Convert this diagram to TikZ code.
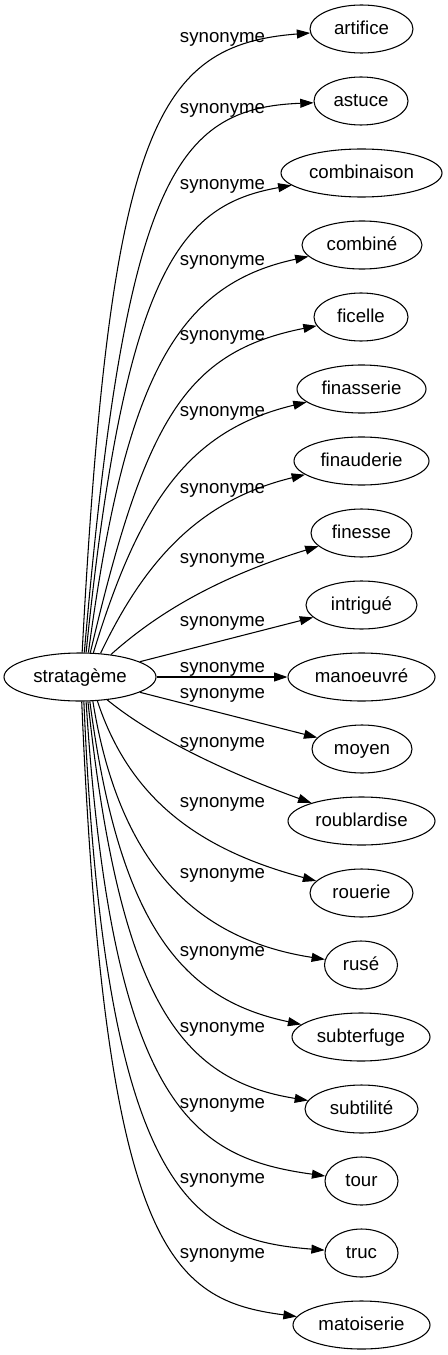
\documentclass[tikz,border=0pt]{standalone}
\usepackage{fontspec}
\setmainfont{Liberation Sans}
\usetikzlibrary{shapes.geometric,arrows.meta}
\begin{document}
\begin{tikzpicture}[x=0.75pt,y=-0.75pt,
  every node/.style={font=\fontsize{14}{16}\selectfont, text height=10pt, text depth=1.75pt},
  wordbox/.style={ellipse, draw, line width=0.8pt, inner sep=0pt, minimum height=36pt, minimum width=#1*0.75pt},
  synlab/.style={inner sep=0pt},
  syn/.style={draw, line width=0.8pt, -{Triangle[length=10pt,width=6.7pt]}},
]
\useasboundingbox (0,0) rectangle (447,1355);

% source
\node[wordbox=152] (s) at (80,677) {stratagème};

% targets
\node[wordbox=103] (artifice)    at (361.5,29)   {artifice};
\node[wordbox=94]  (astuce)      at (361,101)    {astuce};
\node[wordbox=161] (combinaison) at (361.5,173)  {combinaison};
\node[wordbox=120] (combine)     at (362,245)    {combiné};
\node[wordbox=94]  (ficelle)     at (361,317)    {ficelle};
\node[wordbox=129] (finasserie)  at (361.5,389)  {finasserie};
\node[wordbox=135] (finauderie)  at (361.5,461)  {finauderie};
\node[wordbox=101] (finesse)     at (361.5,533)  {finesse};
\node[wordbox=111] (intrigue)    at (361.5,605)  {intrigué};
\node[wordbox=147] (manoeuvre)   at (361.5,677)  {manoeuvré};
\node[wordbox=100] (moyen)       at (362,749)    {moyen};
\node[wordbox=147] (roublardise) at (361.5,821)  {roublardise};
\node[wordbox=103] (rouerie)     at (361.5,893)  {rouerie};
\node[wordbox=73]  (ruse)        at (361,965)    {rusé};
\node[wordbox=138] (subterfuge)  at (361,1037)   {subterfuge};
\node[wordbox=113] (subtilite)   at (361.5,1109) {subtilité};
\node[wordbox=73]  (tour)        at (361.5,1181) {tour};
\node[wordbox=73]  (truc)        at (361.5,1253) {truc};
\node[wordbox=137] (matoiserie)  at (361.5,1325) {matoiserie};

% labels
\node[synlab] (l1)  at (222.5,37)   {synonyme};
\node[synlab] (l2)  at (222.5,108)  {synonyme};
\node[synlab] (l3)  at (222.5,184)  {synonyme};
\node[synlab] (l4)  at (222.5,260)  {synonyme};
\node[synlab] (l5)  at (222.5,335)  {synonyme};
\node[synlab] (l6)  at (222.5,411)  {synonyme};
\node[synlab] (l7)  at (222.5,488)  {synonyme};
\node[synlab] (l8)  at (222.5,558)  {synonyme};
\node[synlab] (l9)  at (222.5,621)  {synonyme};
\node[synlab] (l10) at (222.5,667)  {synonyme};
\node[synlab] (l11) at (222.5,693)  {synonyme};
\node[synlab] (l12) at (222.5,742)  {synonyme};
\node[synlab] (l13) at (222.5,802)  {synonyme};
\node[synlab] (l14) at (222.5,873)  {synonyme};
\node[synlab] (l15) at (222.5,951)  {synonyme};
\node[synlab] (l16) at (222.5,1027) {synonyme};
\node[synlab] (l17) at (222.5,1103) {synonyme};
\node[synlab] (l18) at (222.5,1178) {synonyme};
\node[synlab] (l19) at (222.5,1253) {synonyme};

% edges, upper half
\draw[syn] (s.85.2)  .. controls (110,130) and (155,45)  .. (artifice);
\draw[syn] (s.80.5)  .. controls (125,180) and (175,108) .. (astuce);
\draw[syn] (s.76)    .. controls (125,270) and (180,205) .. (combinaison);
\draw[syn] (s.71.5)  .. controls (125,380) and (175,285) .. (combine);
\draw[syn] (s.67.2)  .. controls (145,420) and (185,352) .. (ficelle);
\draw[syn] (s.61.2)  .. controls (140,500) and (190,430) .. (finasserie);
\draw[syn] (s.49.2)  .. controls (145,560) and (200,500) .. (finauderie);
\draw[syn] (s.36.3)  .. controls (155,615) and (215,578) .. (finesse);
\draw[syn] (s) -- (intrigue);
\draw[syn] (s) -- (manoeuvre);
% edges, lower half
\draw[syn] (s) -- (moyen);
\draw[syn] (s.320.3) .. controls (150,735)  and (220,770)  .. (roublardise);
\draw[syn] (s.306)   .. controls (130,800)  and (200,850)  .. (rouerie);
\draw[syn] (s.298.8) .. controls (120,870)  and (200,940)  .. (ruse);
\draw[syn] (s.292.8) .. controls (120,930)  and (185,1000) .. (subterfuge);
\draw[syn] (s.288.5) .. controls (120,1000) and (180,1080) .. (subtilite);
\draw[syn] (s.284)   .. controls (112,1110) and (195,1158) .. (tour);
\draw[syn] (s.279.5) .. controls (105,1200) and (195,1240) .. (truc);
\draw[syn] (s.274.8) .. controls (105,1250) and (170,1300) .. (matoiserie);
\end{tikzpicture}
\end{document}
